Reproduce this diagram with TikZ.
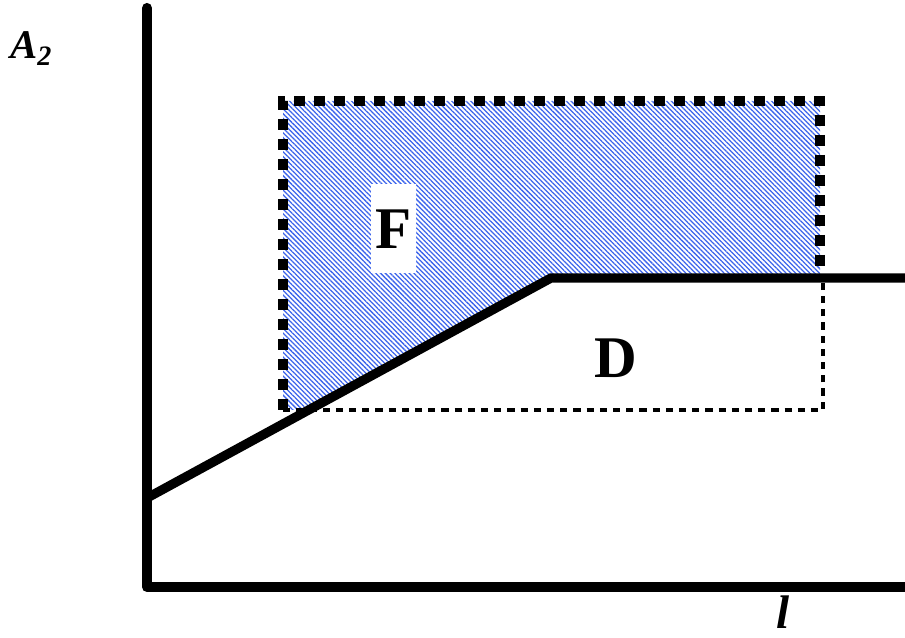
\documentclass[tikz,border=0pt]{standalone}
\usepackage{fontspec}
\setmainfont{Liberation Serif}[BoldFont={Liberation Serif Bold},BoldItalicFont={Liberation Serif Bold Italic}]
\usetikzlibrary{patterns.meta}
\definecolor{hatchblue}{RGB}{60,100,235}
\begin{document}
\begin{tikzpicture}[
		axisline/.style={line width=7.2pt,line cap=round,line join=round},
		bound/.style={line width=6.6pt,line join=miter},
		dotbox/.style={line width=0.27cm,dash pattern=on 0.27cm off 0.23cm},
		dashbox/.style={line width=2.8pt,dash pattern=on 0.18cm off 0.15cm},
		region/.style={font=\fontsize{42}{42}\selectfont\bfseries,inner sep=0pt}
	]
	\useasboundingbox (0,0) rectangle (22.625,15.925);
	% hatched part of the box
	\fill[pattern={Lines[angle=-45,distance=2.4pt,line width=0.9pt]},pattern color=hatchblue]
		(7.075,13.4) -- (20.5,13.4) -- (20.5,8.975) -- (13.775,8.975) -- (7.725,5.675) -- (7.075,5.675) -- cycle;
	\draw[dashbox] (7.075,5.675) -- (20.575,5.675) -- (20.575,8.975);
	\draw[dotbox] (7.075,5.675) -- (7.075,13.4) -- (20.5,13.4) -- (20.5,8.975);
	\draw[bound] (3.675,3.475) -- (13.775,8.975) -- (22.625,8.975);
	\draw[axisline] (3.675,15.725) -- (3.675,1.25) -- (22.7,1.25);
	\node[region,fill=white,minimum width=1.125cm,minimum height=2.225cm] (F) at (9.84,10.2) {F};
	\node[region] (D) at (15.4,6.96) {D};
	\node[font=\bfseries\itshape,anchor=base west,inner sep=0pt] (A2) at (0.25,14.45)
		{\fontsize{29}{29}\selectfont A\raisebox{-0.175cm}{\fontsize{20}{20}\selectfont 2}};
	\node[font=\fontsize{33.5}{34}\selectfont\bfseries\itshape,anchor=base,inner sep=0pt] (len) at (19.575,0.22) {l};
\end{tikzpicture}
\end{document}
